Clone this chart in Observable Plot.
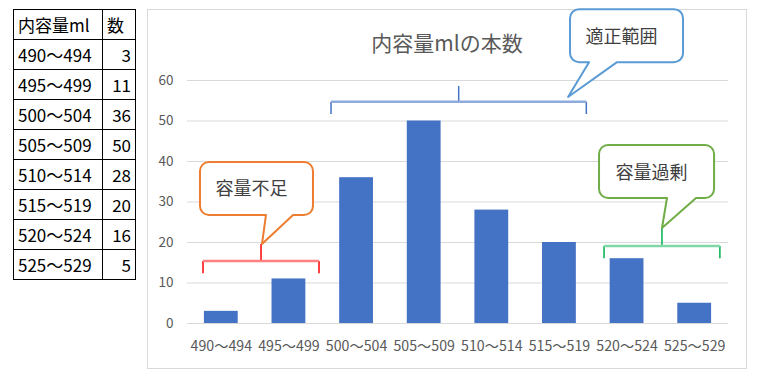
<!DOCTYPE html>
<html><head><meta charset="utf-8">
<script src="https://cdn.jsdelivr.net/npm/d3@7"></script>
<script src="https://cdn.jsdelivr.net/npm/@observablehq/plot@0.6"></script>
<style>
html,body{margin:0;padding:0;background:#fff;width:757px;height:379px;overflow:hidden;font-family:"Noto Sans CJK JP","Noto Sans",sans-serif;}
#tbl{position:absolute;left:13px;top:9px;border-collapse:collapse;font-size:17px;color:#000;table-layout:fixed;}
#tbl tr{height:30px}
#tbl td{border:1px solid #000;padding:0 4px;line-height:28px;white-space:nowrap;overflow:hidden}
#tbl td.n{text-align:right}
#chart{position:absolute;left:147px;top:9px;width:600px;height:360px;border:1px solid #d9d9d9;box-sizing:border-box}
#title{position:absolute;left:0;right:0;top:19px;text-align:center;font-size:21px;line-height:26px;color:#595959;z-index:1}
#chart svg{position:absolute;left:0;top:0;overflow:visible}
</style></head><body>
<table id="tbl"><colgroup><col style="width:89px"><col style="width:33px"></colgroup><tbody></tbody></table>
<div id="chart"><div id="title"></div></div>
<script>
// ---- data ----
const categories = ["490〜494","495〜499","500〜504","505〜509","510〜514","515〜519","520〜524","525〜529"];
const counts = [3, 11, 36, 50, 28, 20, 16, 5];
const yTicks = [0, 10, 20, 30, 40, 50, 60];
const tableHeader = ["内容量ml", "数"];
const chartTitle = "内容量mlの本数";
const groupLabels = ["容量不足", "適正範囲", "容量過剰"];

// ---- annotation layout (category-index units on x, value units on y) ----
const bracketFrom = [-0.263, 1.63, 5.667];
const bracketTo = [1.452, 5.405, 7.38];
const bracketLevel = [15.3, 54.6, 19.0];
const bracketTickTop = [19.5, 58.5, 23.5];
const bracketDrop = 3;
const boxX = [[-0.308, 1.363], [5.164, 6.835], [5.593, 7.294]];
const boxY = [[39.75, 26.67], [77.5, 64.4], [43.95, 30.86]];
const tailBase = [[0.668, 1.068], [5.445, 5.859], [6.598, 7.027]];
const tipPos = [[0.609, 19.5], [5.135, 55.8], [6.524, 23.46]];
const calloutColors = ["#ed7d31", "#5b9bd5", "#70ad47"];
const bracketLight = ["#ff8080", "#8faadc", "#80d8a8"];
const bracketDark = ["#ff0000", "#4472c4", "#00b050"];

// ---- table ----
const tbody = document.querySelector("#tbl tbody");
{
  const tr = document.createElement("tr");
  tableHeader.forEach(h => { const td = document.createElement("td"); td.textContent = h; tr.appendChild(td); });
  tbody.appendChild(tr);
}
categories.forEach((c, i) => {
  const tr = document.createElement("tr");
  const a = document.createElement("td"); a.textContent = c;
  const b = document.createElement("td"); b.textContent = counts[i]; b.className = "n";
  tr.appendChild(a); tr.appendChild(b); tbody.appendChild(tr);
});

document.getElementById("title").textContent = chartTitle;

const data = categories.map((c, i) => ({cat: c, n: counts[i]}));
const FONT = '"Noto Sans CJK JP","Noto Sans",sans-serif';

const chart = Plot.plot({
  width: 598,
  height: 358,
  marginLeft: 39,
  marginRight: 18,
  marginTop: 70,
  marginBottom: 45,
  style: {fontFamily: FONT, fontSize: "13.5px", color: "#595959", background: "transparent", overflow: "visible"},
  x: {domain: categories, paddingInner: 0.5, paddingOuter: 0.25, round: false, label: null, tickSize: 0, tickPadding: 17},
  y: {domain: [0, 60], ticks: 6, label: null, tickSize: 0, tickPadding: 14},
  marks: [
    Plot.ruleY(yTicks, {stroke: "#d9d9d9", strokeOpacity: 1}),
    Plot.barY(data, {x: "cat", y: "n", fill: "#4472c4"})
  ]
});
document.getElementById("chart").appendChild(chart);
// slightly larger category labels, as in the reference
d3.select(chart).selectAll("[aria-label='x-axis tick label'] text, g[aria-label='x-axis'] text").attr("font-size", 14.2);

// ---- annotations drawn with the plot's scales ----
const xs = chart.scale("x"), ys = chart.scale("y");
const px = i => xs.apply(categories[0]) + xs.bandwidth / 2 + i * xs.step;
const py = v => ys.apply(v);
const svg = d3.select(chart);
const g = svg.append("g").attr("class", "annotations");

groupLabels.forEach((label, k) => {
  const x1 = px(bracketFrom[k]), x2 = px(bracketTo[k]), yl = py(bracketLevel[k]);
  const yd = py(bracketLevel[k] - bracketDrop);
  const xm = (x1 + x2) / 2;
  g.append("path").attr("d", `M${x1},${yl}V${yd}M${x2},${yl}V${yd}`)
    .attr("stroke", bracketDark[k]).attr("stroke-width", 1.5).attr("fill", "none");
  g.append("path").attr("d", `M${xm},${yl}V${py(bracketTickTop[k])}`)
    .attr("stroke", bracketDark[k]).attr("stroke-width", 1.5).attr("fill", "none");
  g.append("path").attr("d", `M${x1},${yl}H${x2}`)
    .attr("stroke", bracketLight[k]).attr("stroke-width", 2.5).attr("fill", "none");

  const bx0 = px(boxX[k][0]), bx1 = px(boxX[k][1]);
  const by0 = py(boxY[k][0]), by1 = py(boxY[k][1]);
  const t0 = px(tailBase[k][0]), t1 = px(tailBase[k][1]);
  const tx = px(tipPos[k][0]), ty = py(tipPos[k][1]);
  const r = 9;
  const d = `M${bx0 + r},${by0}H${bx1 - r}A${r},${r} 0 0 1 ${bx1},${by0 + r}V${by1 - r}A${r},${r} 0 0 1 ${bx1 - r},${by1}` +
    `H${t1}L${tx},${ty}L${t0},${by1}H${bx0 + r}A${r},${r} 0 0 1 ${bx0},${by1 - r}V${by0 + r}A${r},${r} 0 0 1 ${bx0 + r},${by0}Z`;
  g.append("path").attr("d", d).attr("fill", "#fff").attr("stroke", calloutColors[k])
    .attr("stroke-width", 2).attr("stroke-linejoin", "round");
  g.append("text").attr("x", (bx0 + bx1) / 2 - 5).attr("y", (by0 + by1) / 2 - 1)
    .attr("text-anchor", "middle").attr("dominant-baseline", "central")
    .attr("font-family", FONT).attr("font-size", 18).attr("fill", "#404040")
    .text(label);
});
</script>
</body></html>
